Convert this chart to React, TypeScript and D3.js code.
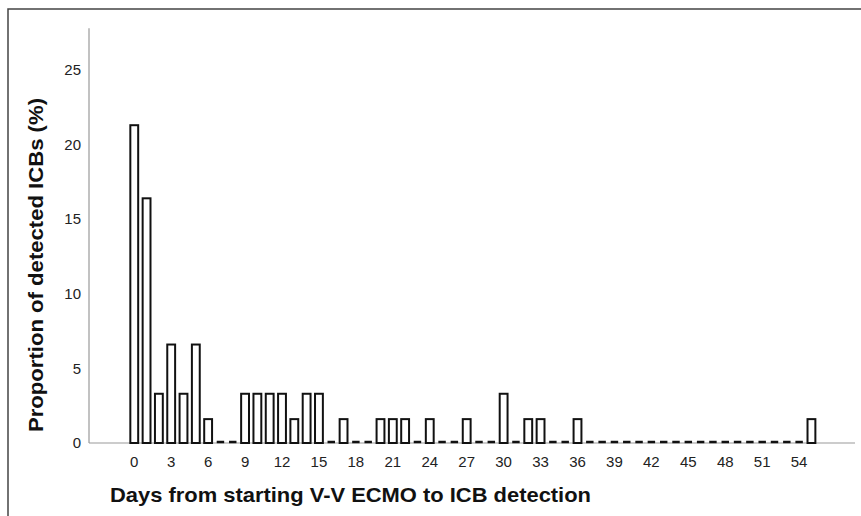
import React from 'react';
import * as d3 from 'd3';

// days since ECMO start (0..55) and share of detected ICBs (%) per day
const days: number[] = d3.range(0, 56);
const proportions: number[] = [
  21.3, 16.4, 3.3, 6.6, 3.3, 6.6, 1.6, 0, 0, 3.3,
  3.3, 3.3, 3.3, 1.6, 3.3, 3.3, 0, 1.6, 0, 0,
  1.6, 1.6, 1.6, 0, 1.6, 0, 0, 1.6, 0, 0,
  3.3, 0, 1.6, 1.6, 0, 0, 1.6, 0, 0, 0,
  0, 0, 0, 0, 0, 0, 0, 0, 0, 0,
  0, 0, 0, 0, 0, 1.6,
];
const xTicks: number[] = d3.range(0, 55, 3);
const yTicks: number[] = [0, 5, 10, 15, 20, 25];

const xTitle = 'Days from starting V-V ECMO to ICB detection';
const yTitle = 'Proportion of detected ICBs (%)';

export default function App() {
  const width = 861;
  const height = 516;
  const font = '"Liberation Sans", Arial, Helvetica, sans-serif';

  const axisLeft = 89;
  const axisRight = 855;
  const baseY = 443;

  const x = d3.scaleBand<number>()
    .domain(days)
    .range([128.1, 817.6])
    .paddingInner(0.2)
    .paddingOuter(0.1);

  const y = d3.scaleLinear().domain([0, 25]).range([baseY, 70]);
  const yTop = y(27.8);

  return (
    <svg
      width={width}
      height={height}
      style={{ position: 'absolute', left: 0, top: 0, background: '#fff' }}
      fontFamily={font}
    >
      {/* outer frame, cut by the picture on the right and bottom */}
      <path d={`M8,${height} V9 H${width}`} fill="none" stroke="#444" strokeWidth={1.5} />

      {/* axes */}
      <line x1={axisLeft} x2={axisLeft} y1={yTop} y2={baseY} stroke="#999" strokeWidth={1.2} />
      <line x1={axisLeft} x2={axisRight} y1={baseY} y2={baseY} stroke="#999" strokeWidth={1.2} />

      {yTicks.map((t) => (
        <text key={'y' + t} x={81} y={y(t)} dy="0.35em" textAnchor="end" fontSize={15} fill="#222">
          {t}
        </text>
      ))}

      {xTicks.map((t) => (
        <text
          key={'x' + t}
          x={(x(t) as number) + x.bandwidth() / 2}
          y={462}
          dy="0.35em"
          textAnchor="middle"
          fontSize={15}
          fill="#222"
        >
          {t}
        </text>
      ))}

      {/* bars; empty days drawn as a thick dash on the baseline like SPSS */}
      {days.map((d, i) => {
        const v = proportions[i];
        const bx = x(d) as number;
        const bw = x.bandwidth();
        if (v === 0) {
          return (
            <line key={d} x1={bx + 1.2} x2={bx + bw - 1.2} y1={baseY - 1} y2={baseY - 1} stroke="#111" strokeWidth={2.5} />
          );
        }
        return (
          <rect
            key={d}
            x={bx + 1}
            y={y(v)}
            width={bw - 2}
            height={baseY - y(v)}
            fill="#fff"
            stroke="#111"
            strokeWidth={2}
          />
        );
      })}

      <text
        transform={`translate(43,265) rotate(-90)`}
        textAnchor="middle"
        fontSize={21}
        fontWeight="bold"
        fill="#111"
        textLength={334}
        lengthAdjust="spacingAndGlyphs"
      >
        {yTitle}
      </text>
      <text
        x={110}
        y={502}
        fontSize={21}
        fontWeight="bold"
        fill="#111"
        textLength={481}
        lengthAdjust="spacingAndGlyphs"
      >
        {xTitle}
      </text>
    </svg>
  );
}
